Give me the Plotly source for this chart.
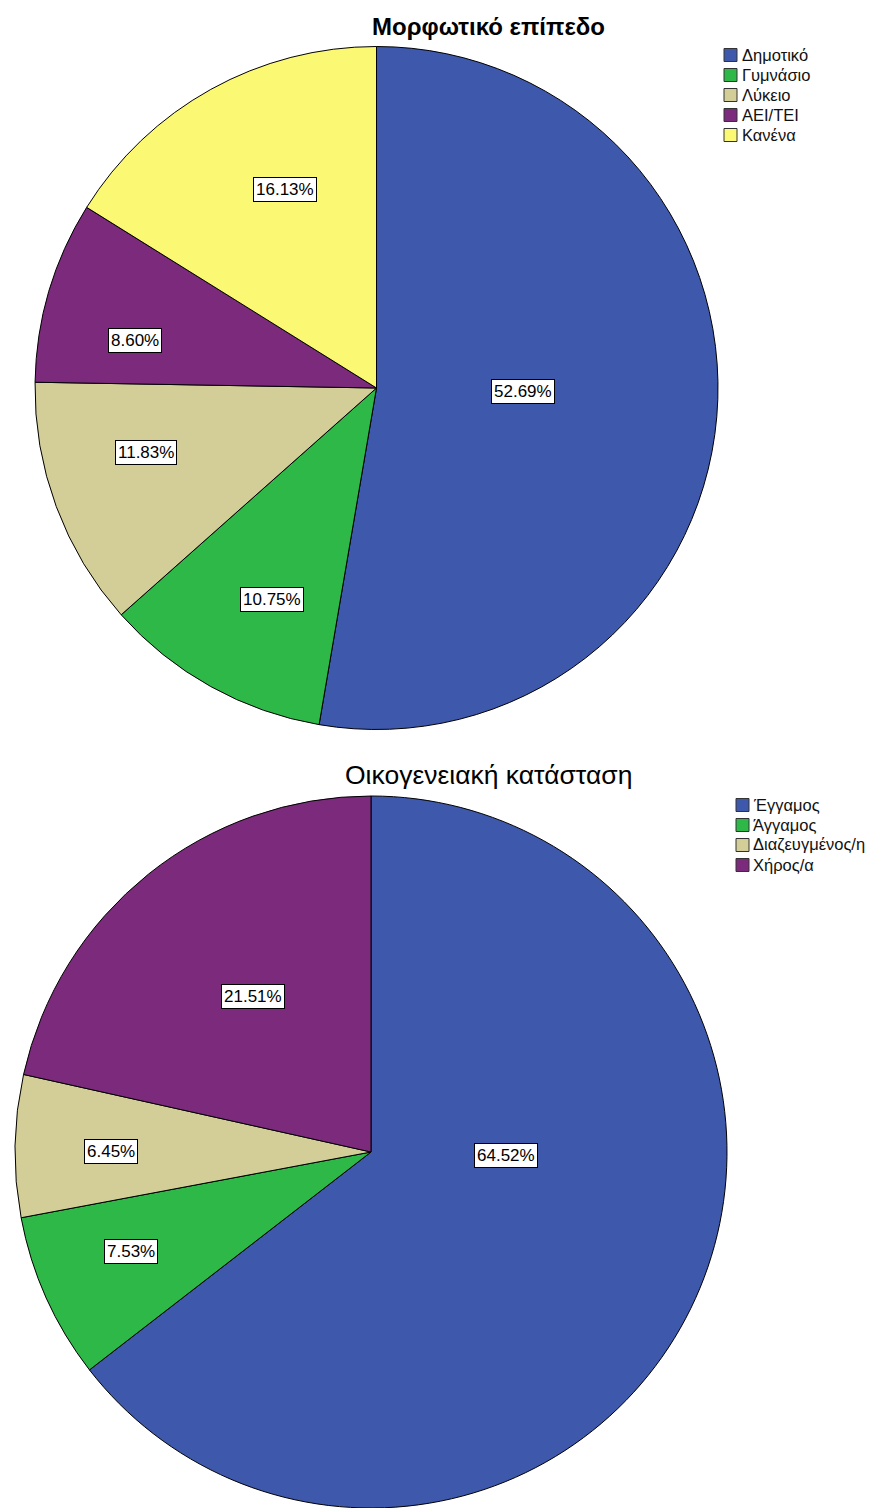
import math
import plotly.graph_objects as go

W, H = 876, 1508

# ---- data ----
edu_title = "Μορφωτικό επίπεδο"
edu_labels = ["Δημοτικό", "Γυμνάσιο", "Λύκειο", "ΑΕΙ/ΤΕΙ", "Κανένα"]
edu_counts = [49, 10, 11, 8, 15]

fam_title = "Οικογενειακή κατάσταση"
fam_labels = ["Έγγαμος", "Άγγαμος", "Διαζευγμένος/η", "Χήρος/α"]
fam_counts = [60, 7, 6, 20]

# ---- styles ----
palette = ["#3E58AC", "#2EB848", "#D3CE97", "#7C2A7C", "#FBF873"]
FONT = "Arial, Liberation Sans, sans-serif"

# pie geometry (pixels)
top_geo = dict(cx=376.5, cy=388, r=341.5)
bot_geo = dict(cx=371, cy=1152, r=356)
# value-label placement: radial fraction and angular nudge (deg) from slice middle
top_label_rf = [0.43, 0.69, 0.70, 0.72, 0.64]
top_label_dt = [0, -2.7, 4.6, -5.3, 4.4]
bot_label_rf = [0.38, 0.73, 0.73, 0.55]
bot_label_dt = [0, 1.6, -0.8, 1.5]

fig = go.Figure()
annotations = []
shapes = []


def add_pie(labels, counts, geo, rf_list, dt_list, title, title_xy, title_bold, title_size,
            legend_xy):
    cx, cy, r = geo["cx"], geo["cy"], geo["r"]
    fig.add_trace(go.Pie(
        labels=labels, values=counts, sort=False, direction="clockwise",
        rotation=0, textinfo="none", hoverinfo="label+percent",
        marker=dict(colors=palette[:len(labels)], line=dict(color="black", width=1)),
        domain=dict(x=[(cx - r) / W, (cx + r) / W], y=[1 - (cy + r) / H, 1 - (cy - r) / H]),
        showlegend=False,
    ))
    total = sum(counts)
    cum = 0
    for i, c in enumerate(counts):
        share = c / total
        mid = (cum + share / 2) * 360
        theta = (mid if share < 0.5 else 91.5) + dt_list[i]
        cum += share
        rr = rf_list[i] * r
        px = cx + rr * math.sin(math.radians(theta))
        py = cy - rr * math.cos(math.radians(theta))
        annotations.append(dict(
            x=px / W, y=1 - py / H, xref="paper", yref="paper", showarrow=False,
            text=f"{share*100:.2f}%", font=dict(family=FONT, size=17, color="black"),
            bgcolor="white", bordercolor="black", borderwidth=1, borderpad=2,
            xanchor="center", yanchor="middle",
        ))
    # title
    tx, ty = title_xy
    annotations.append(dict(
        x=tx / W, y=1 - ty / H, xref="paper", yref="paper", showarrow=False,
        text=f"<b>{title}</b>" if title_bold else title,
        font=dict(family=FONT, size=title_size, color="black"),
        xanchor="center", yanchor="middle",
    ))
    # legend
    lx, ly, gap = legend_xy
    for i, lab in enumerate(labels):
        yc = ly + i * 20
        shapes.append(dict(
            type="rect", xref="paper", yref="paper",
            x0=lx / W, x1=(lx + 13) / W, y0=1 - (yc - 6.5) / H, y1=1 - (yc + 6.5) / H,
            fillcolor=palette[i], line=dict(color="#333333", width=1),
        ))
        annotations.append(dict(
            x=(lx + 13 + gap) / W, y=1 - yc / H, xref="paper", yref="paper",
            showarrow=False, text=lab, font=dict(family=FONT, size=16.5, color="#111111"),
            xanchor="left", yanchor="middle",
        ))


add_pie(edu_labels, edu_counts, top_geo, top_label_rf, top_label_dt, edu_title,
        (488, 26), True, 24, (724, 55, 3))
add_pie(fam_labels, fam_counts, bot_geo, bot_label_rf, bot_label_dt, fam_title,
        (488, 775), False, 26.5, (736, 805, 2))

fig.update_layout(
    width=W, height=H, margin=dict(l=0, r=0, t=0, b=0),
    paper_bgcolor="white", plot_bgcolor="white",
    annotations=annotations, shapes=shapes, showlegend=False,
)

fig.write_html("out.html")
